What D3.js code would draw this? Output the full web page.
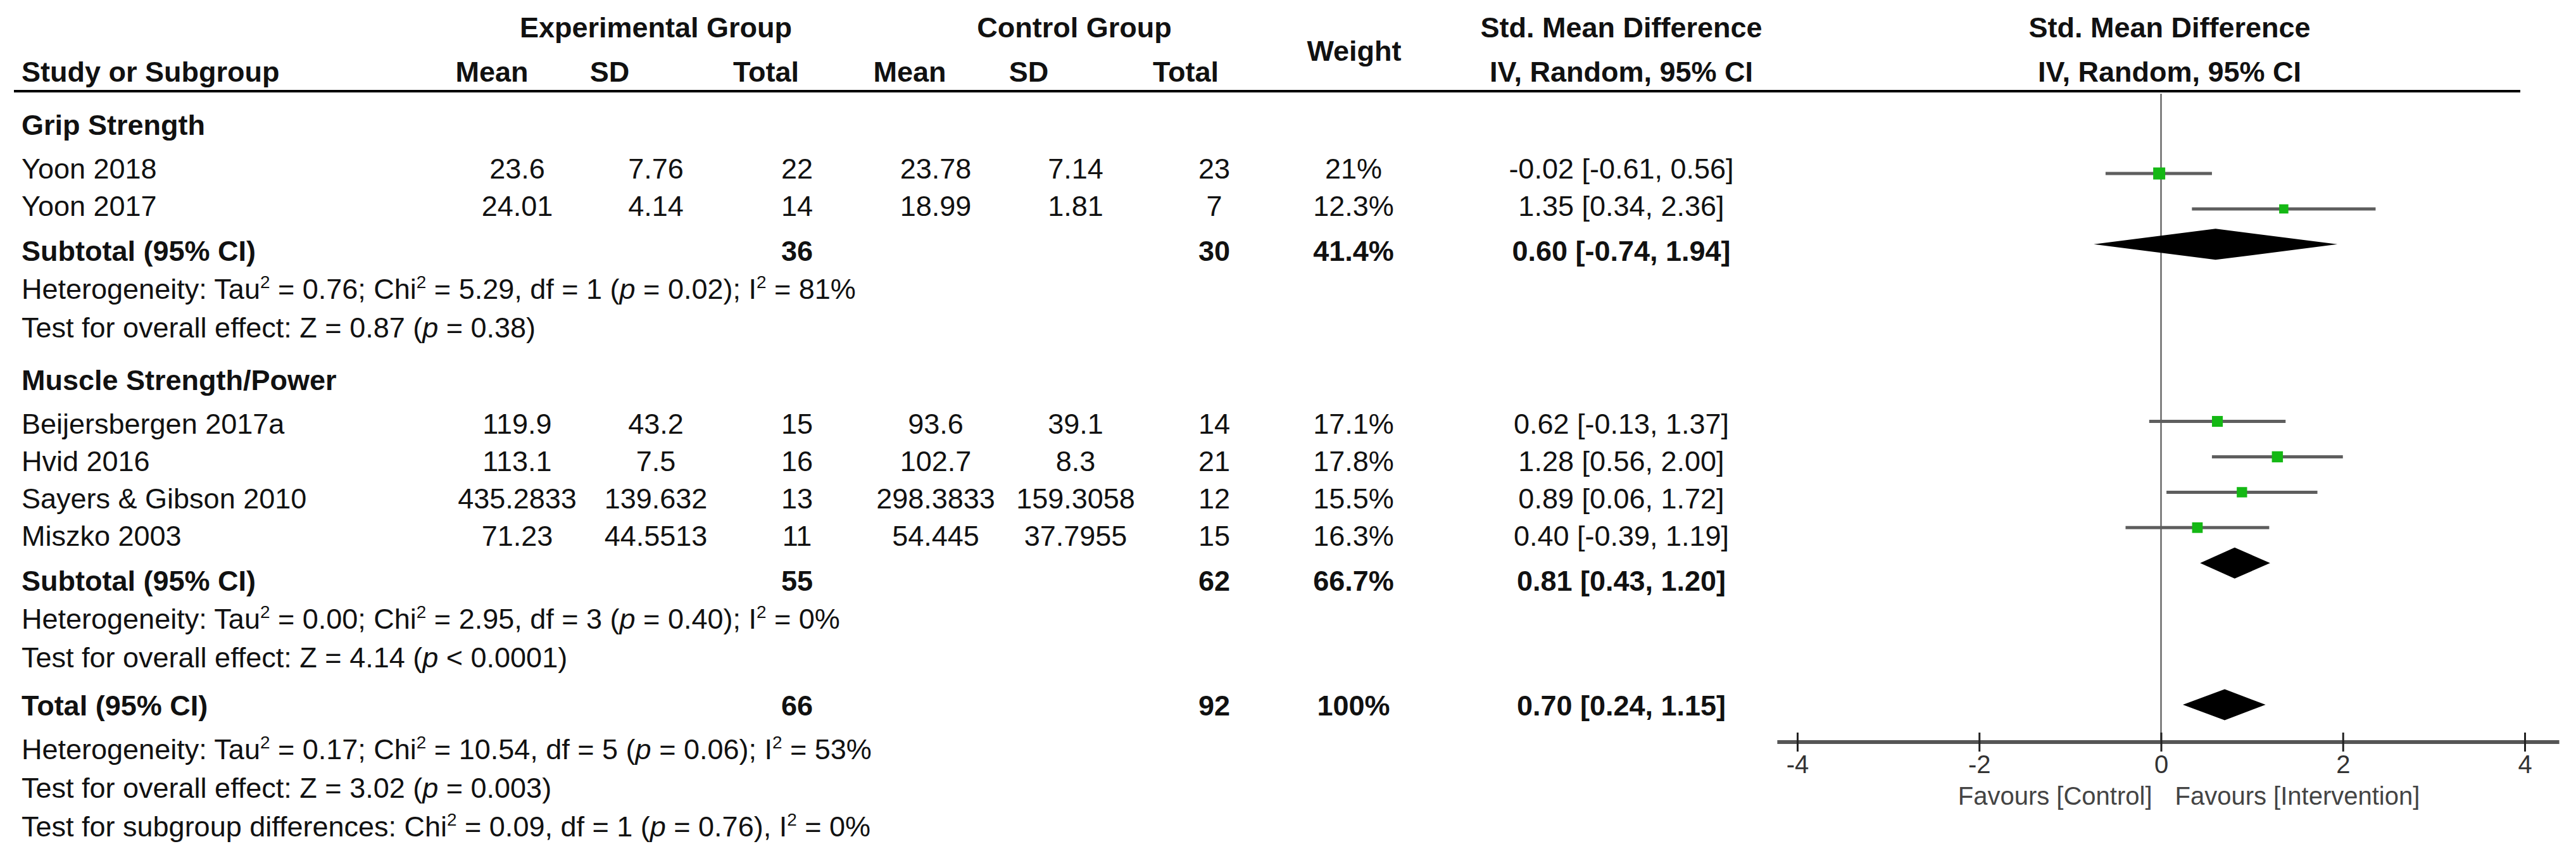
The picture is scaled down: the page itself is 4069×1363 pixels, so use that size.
<!DOCTYPE html>
<html>
<head>
<meta charset="utf-8">
<script src="https://cdn.jsdelivr.net/npm/d3@7"></script>
<style>
body { margin: 0; background: #fff; }
text { font-family: "Liberation Sans", Arial, sans-serif; }
</style>
</head>
<body>
<script>
// ---- data ----
var groups = ["Grip Strength", "Muscle Strength/Power"];
var studies = ["Yoon 2018", "Yoon 2017", "Beijersbergen 2017a", "Hvid 2016", "Sayers & Gibson 2010", "Miszko 2003"];
var studyGroup = [0, 0, 1, 1, 1, 1];
var expMean = ["23.6", "24.01", "119.9", "113.1", "435.2833", "71.23"];
var expSD = ["7.76", "4.14", "43.2", "7.5", "139.632", "44.5513"];
var expN = [22, 14, 15, 16, 13, 11];
var ctlMean = ["23.78", "18.99", "93.6", "102.7", "298.3833", "54.445"];
var ctlSD = ["7.14", "1.81", "39.1", "8.3", "159.3058", "37.7955"];
var ctlN = [23, 7, 14, 21, 12, 15];
var weights = [21, 12.3, 17.1, 17.8, 15.5, 16.3];
var weightLabels = ["21%", "12.3%", "17.1%", "17.8%", "15.5%", "16.3%"];
var smd = [-0.02, 1.35, 0.62, 1.28, 0.89, 0.40];
var ciLow = [-0.61, 0.34, -0.13, 0.56, 0.06, -0.39];
var ciHigh = [0.56, 2.36, 1.37, 2.00, 1.72, 1.19];

var subExpN = [36, 55];
var subCtlN = [30, 62];
var subWeight = ["41.4%", "66.7%"];
var subSmd = [0.60, 0.81];
var subLow = [-0.74, 0.43];
var subHigh = [1.94, 1.20];
var subNotes = [
    ["Heterogeneity: Tau^2 = 0.76; Chi^2 = 5.29, df = 1 (*p* = 0.02); I^2 = 81%",
     "Test for overall effect: Z = 0.87 (*p* = 0.38)"],
    ["Heterogeneity: Tau^2 = 0.00; Chi^2 = 2.95, df = 3 (*p* = 0.40); I^2 = 0%",
     "Test for overall effect: Z = 4.14 (*p* < 0.0001)"]
];

var totalExpN = 66, totalCtlN = 92, totalWeight = "100%";
var totalSmd = 0.70, totalLow = 0.24, totalHigh = 1.15;
var totalNotes = [
    "Heterogeneity: Tau^2 = 0.17; Chi^2 = 10.54, df = 5 (*p* = 0.06); I^2 = 53%",
    "Test for overall effect: Z = 3.02 (*p* = 0.003)",
    "Test for subgroup differences: Chi^2 = 0.09, df = 1 (*p* = 0.76), I^2 = 0%"
];

var axisTicks = [-4, -2, 0, 2, 4];
var favours = ["Favours [Control]", "Favours [Intervention]"];

// ---- layout ----
var W = 4069, H = 1363;
var fs = 45;
var col = { study: 34, eMean: 817, eSD: 1036, eN: 1259, cMean: 1478, cSD: 1699, cN: 1918, weight: 2138, ci: 2561 };

var svg = d3.select('body').append('svg')
    .attr('width', W)
    .attr('height', H);

svg.append('rect').attr('width', W).attr('height', H).attr('fill', '#fff');

var loc = d3.formatLocale({ decimal: '.', thousands: ',', grouping: [3], currency: ['', ''], minus: '-' });
var fmt = loc.format('.2f');
function ciText(m, l, h) {
    return fmt(m) + ' [' + fmt(l) + ', ' + fmt(h) + ']';
}

// rich text: ^2 -> superscript, *p* -> italic
function rich(sel, str) {
    var up = fs * 0.38;
    var shift = 0;
    str.split(/(\^2|\*p\*)/).forEach(function(part) {
        if (part === '') return;
        var t;
        if (part === '^2') {
            t = sel.append('tspan').attr('font-size', fs * 0.62).text('2');
            t.attr('dy', shift - up);
            shift = up;
            return;
        }
        if (part === '*p*') {
            t = sel.append('tspan').attr('font-style', 'italic').text('p');
        } else {
            t = sel.append('tspan').text(part);
        }
        if (shift) t.attr('dy', shift);
        shift = 0;
    });
}

function label(x, y, str, opts) {
    opts = opts || {};
    var t = svg.append('text')
        .attr('x', x)
        .attr('y', y)
        .attr('dy', '0.36em')
        .attr('font-size', opts.size || fs)
        .attr('font-weight', opts.bold ? 'bold' : null)
        .attr('text-anchor', opts.anchor || 'start')
        .attr('fill', opts.fill || '#111');
    if (opts.rich) rich(t, str); else t.text(str);
    return t;
}

// header
label(1036, 43, 'Experimental Group', { bold: true, anchor: 'middle' });
label(1697, 43, 'Control Group', { bold: true, anchor: 'middle' });
label(2139, 80, 'Weight', { bold: true, anchor: 'middle' });
label(2561, 43, 'Std. Mean Difference', { bold: true, anchor: 'middle' });
label(2561, 113, 'IV, Random, 95% CI', { bold: true, anchor: 'middle' });
label(3427, 43, 'Std. Mean Difference', { bold: true, anchor: 'middle' });
label(3427, 113, 'IV, Random, 95% CI', { bold: true, anchor: 'middle' });
label(col.study, 113, 'Study or Subgroup', { bold: true });
[['Mean', 777], ['SD', 963], ['Total', 1210], ['Mean', 1437], ['SD', 1625], ['Total', 1873]].forEach(function(h) {
    label(h[1], 113, h[0], { bold: true, anchor: 'middle' });
});

svg.append('line')
    .attr('x1', 22).attr('x2', 3981)
    .attr('y1', 144).attr('y2', 144)
    .attr('stroke', '#000').attr('stroke-width', 4);

// rows (slot counts table lines incl. a blank line before each group / total)
var rows = [];
var slot = -1;
groups.forEach(function(g, gi) {
    if (gi > 0) slot++;
    rows.push({ kind: 'group', gi: gi, slot: slot++ });
    studies.forEach(function(s, i) {
        if (studyGroup[i] === gi) rows.push({ kind: 'study', i: i, slot: slot++ });
    });
    rows.push({ kind: 'sub', gi: gi, slot: slot++ });
    subNotes[gi].forEach(function(n) { rows.push({ kind: 'note', text: n, slot: slot++ }); });
});
slot++;
rows.push({ kind: 'total', slot: slot++ });
totalNotes.forEach(function(n) { rows.push({ kind: 'note', text: n, slot: slot++ }); });

var gaps = {
    'group-study': 69, 'study-study': 59, 'study-sub': 71, 'sub-note': 60,
    'note-note': 61, 'note-group': 83, 'note-total': 76, 'total-note': 69
};
var yy = 197;
rows.forEach(function(r, k) {
    if (k > 0) yy += gaps[rows[k - 1].kind + '-' + r.kind];
    r.y = yy;
});

// forest scales
var x = d3.scaleLinear().domain([-4, 4]).range([2839, 3988]);
var yf = d3.scaleLinear().domain([0, 15]).range([274, 1113]);
var axisY = 1172;

svg.append('line')
    .attr('x1', x(0)).attr('x2', x(0))
    .attr('y1', 148).attr('y2', axisY)
    .attr('stroke', '#6a6a6a').attr('stroke-width', 2.5);

var sq = d3.scaleSqrt().domain([0, 21]).range([0, 19]);

rows.forEach(function(r) {
    var fy = yf(r.slot);
    if (r.kind === 'group') {
        label(col.study, r.y, groups[r.gi], { bold: true });
    } else if (r.kind === 'study') {
        var i = r.i;
        label(col.study, r.y, studies[i]);
        label(col.eMean, r.y, expMean[i], { anchor: 'middle' });
        label(col.eSD, r.y, expSD[i], { anchor: 'middle' });
        label(col.eN, r.y, expN[i], { anchor: 'middle' });
        label(col.cMean, r.y, ctlMean[i], { anchor: 'middle' });
        label(col.cSD, r.y, ctlSD[i], { anchor: 'middle' });
        label(col.cN, r.y, ctlN[i], { anchor: 'middle' });
        label(col.weight, r.y, weightLabels[i], { anchor: 'middle' });
        label(col.ci, r.y, ciText(smd[i], ciLow[i], ciHigh[i]), { anchor: 'middle' });
        svg.append('line')
            .attr('x1', x(ciLow[i])).attr('x2', x(ciHigh[i]))
            .attr('y1', fy).attr('y2', fy)
            .attr('stroke', '#5e5e5e').attr('stroke-width', 5);
        var s = sq(weights[i]);
        svg.append('rect')
            .attr('x', x(smd[i]) - s / 2).attr('y', fy - s / 2)
            .attr('width', s).attr('height', s)
            .attr('fill', '#14b814');
    } else if (r.kind === 'sub' || r.kind === 'total') {
        var isSub = r.kind === 'sub';
        var m = isSub ? subSmd[r.gi] : totalSmd,
            lo = isSub ? subLow[r.gi] : totalLow,
            hi = isSub ? subHigh[r.gi] : totalHigh;
        label(col.study, r.y, isSub ? 'Subtotal (95% CI)' : 'Total (95% CI)', { bold: true });
        label(col.eN, r.y, isSub ? subExpN[r.gi] : totalExpN, { bold: true, anchor: 'middle' });
        label(col.cN, r.y, isSub ? subCtlN[r.gi] : totalCtlN, { bold: true, anchor: 'middle' });
        label(col.weight, r.y, isSub ? subWeight[r.gi] : totalWeight, { bold: true, anchor: 'middle' });
        label(col.ci, r.y, ciText(m, lo, hi), { bold: true, anchor: 'middle' });
        var hh = 24.5;
        svg.append('path')
            .attr('d', 'M' + x(lo) + ',' + fy + 'L' + x(m) + ',' + (fy - hh) +
                'L' + x(hi) + ',' + fy + 'L' + x(m) + ',' + (fy + hh) + 'Z')
            .attr('fill', '#000');
    } else {
        label(col.study, r.y, r.text, { rich: true });
    }
});

// axis
svg.append('line')
    .attr('x1', x(-4.22)).attr('x2', x(4.38))
    .attr('y1', axisY).attr('y2', axisY)
    .attr('stroke', '#555').attr('stroke-width', 6);

var axis = d3.axisBottom(x)
    .tickValues(axisTicks)
    .tickSize(15)
    .tickPadding(6)
    .tickFormat(loc.format('d'));

var ag = svg.append('g')
    .attr('transform', 'translate(0,' + axisY + ')')
    .call(axis);
ag.select('.domain').remove();
ag.selectAll('.tick line')
    .attr('y1', -15)
    .attr('stroke', '#222')
    .attr('stroke-width', 3);
ag.selectAll('.tick text')
    .attr('font-family', '"Liberation Sans", Arial, sans-serif')
    .attr('font-size', 40)
    .attr('fill', '#333');

label(x(0) - 14, 1257, favours[0], { size: 40, anchor: 'end', fill: '#444' });
label(x(0) + 22, 1257, favours[1], { size: 40, anchor: 'start', fill: '#444' });
</script>
</body>
</html>
